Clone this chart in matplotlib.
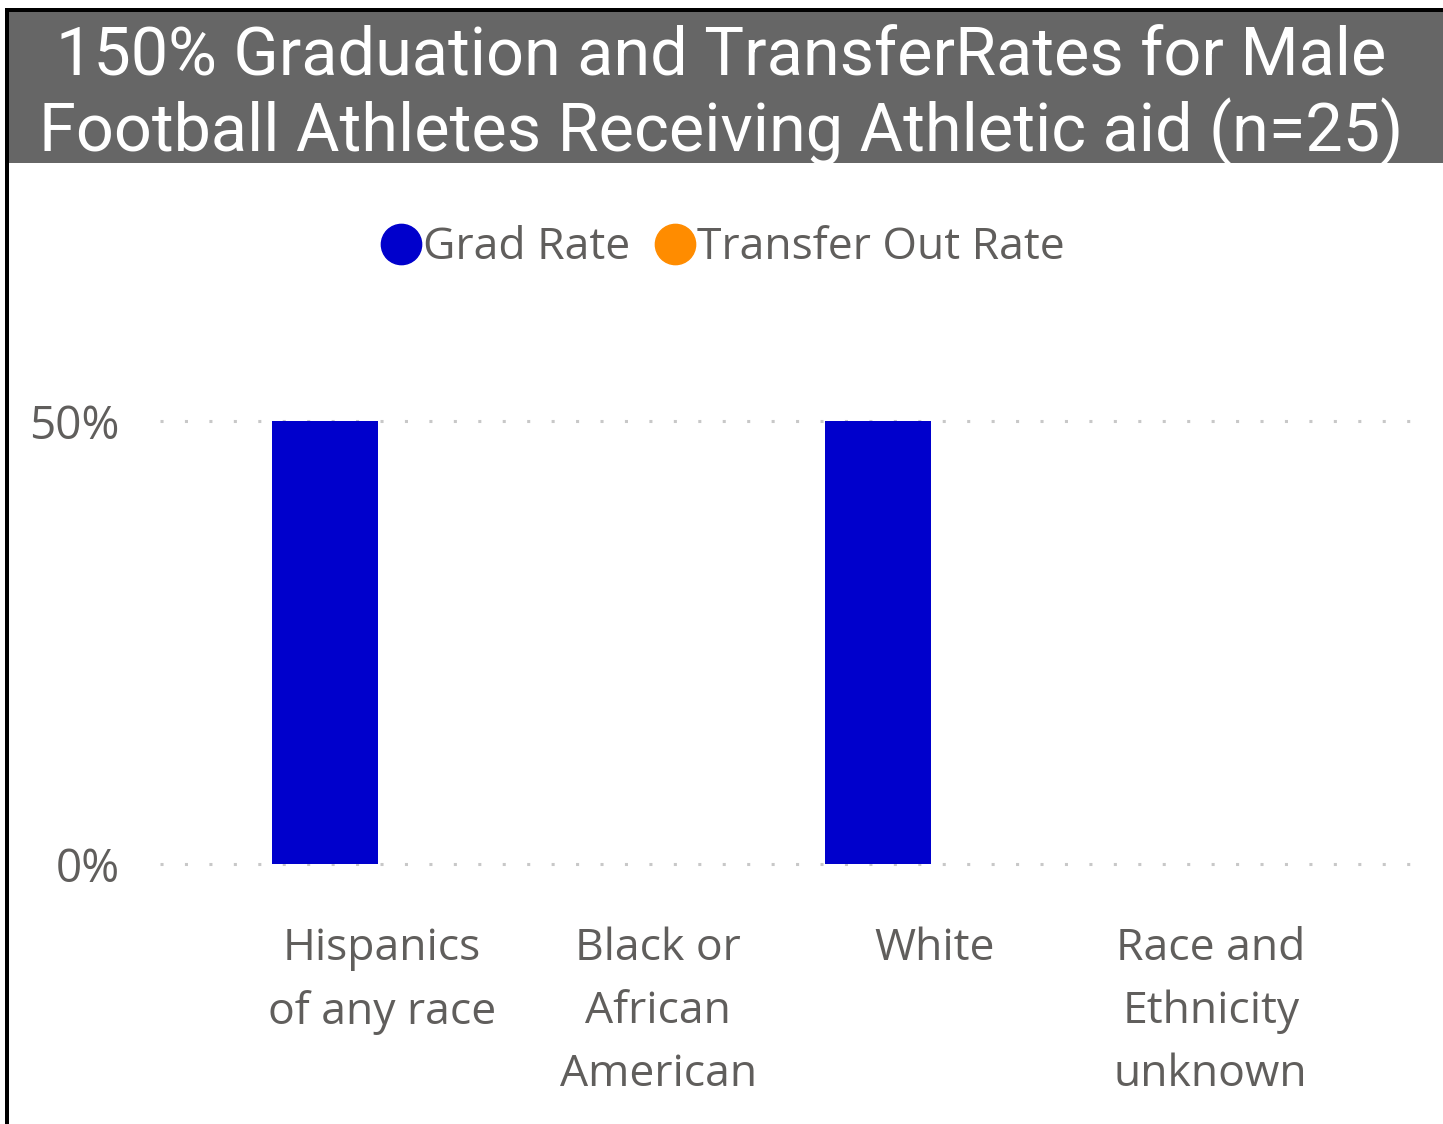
import numpy as np
import matplotlib.pyplot as plt
from matplotlib.patches import Rectangle
from matplotlib.lines import Line2D

categories = ['Hispanics\nof any race', 'Black or\nAfrican\nAmerican', 'White', 'Race and\nEthnicity\nunknown']
grad_rate = [50, 0, 50, 0]
transfer_rate = [0, 0, 0, 0]
yticks = [0, 50]
ytick_labels = ['0%', '50%']

title = '150% Graduation and TransferRates for Male\nFootball Athletes Receiving Athletic aid (n=25)'
blue = '#0000CC'
orange = '#FF8C00'
txt = '#605E5C'

W, H = 1443, 1124
fig = plt.figure(figsize=(W / 100, H / 100), dpi=100)

# frame and title bar
fig.patches.append(Rectangle((9 / W, 1 - 163 / H), 1 - 9 / W, 152 / H, transform=fig.transFigure,
                             facecolor='#666666', edgecolor='none', zorder=0))
fig.patches.append(Rectangle((5 / W, 1 - 12 / H), 1, 4 / H, transform=fig.transFigure,
                             facecolor='black', edgecolor='none', zorder=1))
fig.patches.append(Rectangle((5 / W, 0), 4 / W, 1 - 8 / H, transform=fig.transFigure,
                             facecolor='black', edgecolor='none', zorder=1))
fig.text(0.5, 1 - 96 / H, title, ha='center', va='center', color='white',
         fontsize=48, family='Roboto', linespacing=1.15)

ax = fig.add_axes([160 / W, 1 - 864 / H, (1415 - 160) / W, (864 - 300) / H])
x = np.arange(len(categories))
off, bw = 0.206, 0.384
ax.bar(x - off, grad_rate, bw, color=blue, zorder=3)
ax.bar(x + off, transfer_rate, bw, color=orange, zorder=3)

ax.set_xlim(-0.803, 3.739)
ax.set_ylim(0, 63.66)
ax.set_yticks(yticks)
ax.set_yticklabels(ytick_labels)
ax.set_xticks(x)
ax.set_xticklabels(categories)
for v in yticks:
    ax.axhline(v, color='#C8C8C8', lw=2.2, ls=(0, (1, 7)), zorder=1, clip_on=False)
for s in ax.spines.values():
    s.set_visible(False)
ax.tick_params(axis='x', length=0, labelsize=32, labelcolor=txt, pad=45)
ax.tick_params(axis='y', length=0, labelsize=33, labelcolor=txt, pad=29)
for lab in ax.get_xticklabels() + ax.get_yticklabels():
    lab.set_family('Open Sans')
for lab in ax.get_xticklabels():
    lab.set_linespacing(1.55)
    lab.set_verticalalignment('top')

handles = [Line2D([], [], marker='o', ls='', color=blue, markersize=29),
           Line2D([], [], marker='o', ls='', color=orange, markersize=29)]
fig.legend(handles, ['Grad Rate', 'Transfer Out Rate'], loc='center', ncol=2,
           bbox_to_anchor=(0.5, 1 - 248 / H), frameon=False, handletextpad=0.0,
           columnspacing=0.5, handlelength=1.0,
           prop={'family': 'Open Sans', 'size': 32}, labelcolor=txt)

fig.savefig('out.png', dpi=100)
